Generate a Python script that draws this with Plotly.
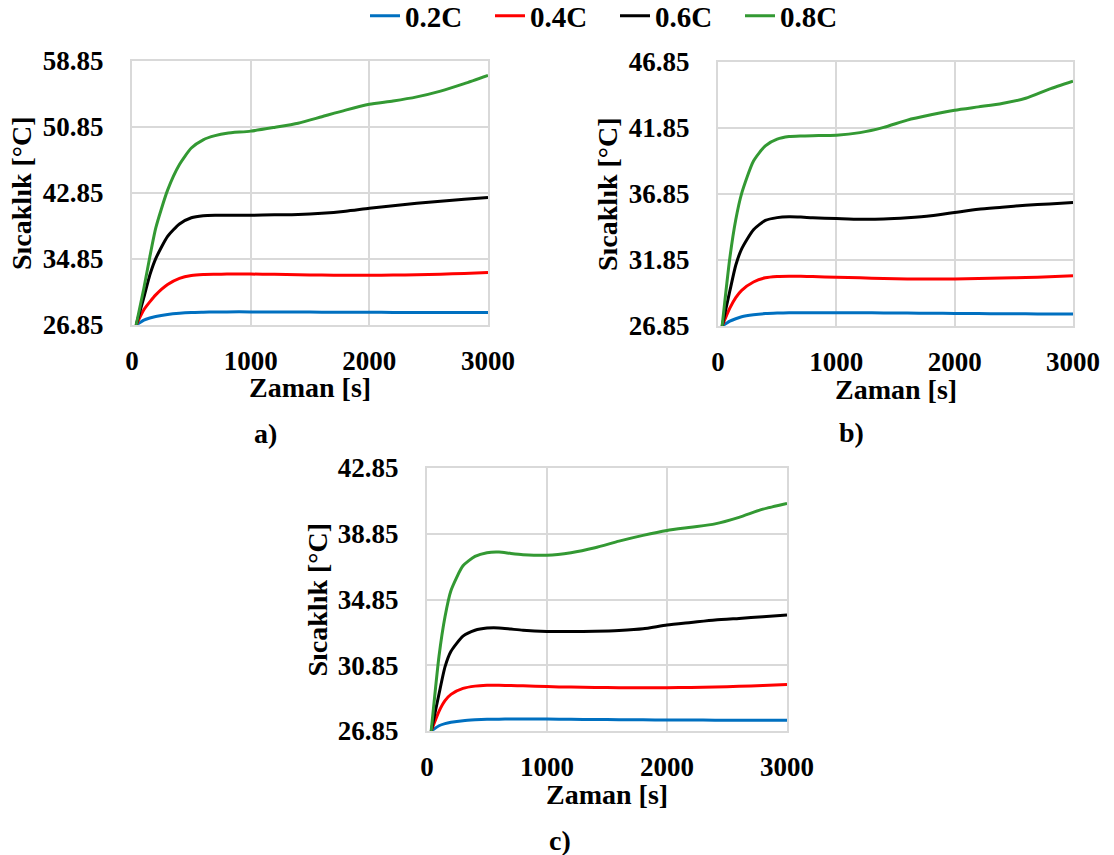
import plotly.graph_objects as go

# ---------------- data ----------------
series_names = ["0.2C", "0.4C", "0.6C", "0.8C"]
series_colors = ["#0070C0", "#FF0000", "#000000", "#339933"]

time_s = [35, 100, 150, 200, 300, 400, 500, 600, 700, 800, 1000, 1200, 1400,
          1600, 1800, 2000, 2200, 2400, 2600, 2800, 3000]

# panel a)
a_02 = [26.85, 27.45, 27.7, 27.88, 28.12, 28.27, 28.36, 28.4, 28.43, 28.44, 28.44, 28.43,
        28.42, 28.41, 28.4, 28.39, 28.38, 28.37, 28.36, 28.35, 28.35]
a_04 = [26.85, 28.7, 29.65, 30.5, 31.75, 32.5, 32.85, 32.97, 33.0, 33.02, 33.02, 33.0,
        32.95, 32.9, 32.88, 32.88, 32.9, 32.95, 33.0, 33.1, 33.2]
a_06 = [26.85, 30.2, 32.9, 34.9, 37.6, 39.1, 39.85, 40.1, 40.15, 40.15, 40.15, 40.2,
        40.25, 40.4, 40.65, 41.0, 41.3, 41.6, 41.85, 42.1, 42.3]
a_08 = [26.85, 31.3, 35.1, 38.6, 43.2, 46.3, 48.3, 49.3, 49.8, 50.1, 50.35, 50.8,
        51.3, 52.1, 52.9, 53.6, 54.0, 54.5, 55.2, 56.1, 57.1]

# panel b)
b_02 = [26.85, 27.22, 27.4, 27.55, 27.7, 27.79, 27.83, 27.85, 27.86, 27.86, 27.86, 27.85,
        27.84, 27.83, 27.82, 27.8, 27.79, 27.78, 27.77, 27.76, 27.75]
b_04 = [26.85, 28.2, 29.0, 29.55, 30.18, 30.5, 30.6, 30.62, 30.61, 30.6, 30.54, 30.5,
        30.45, 30.42, 30.42, 30.42, 30.45, 30.48, 30.52, 30.58, 30.65]
b_06 = [26.85, 29.5, 31.45, 32.7, 34.15, 34.85, 35.06, 35.12, 35.1, 35.05, 34.99, 34.93,
        34.95, 35.05, 35.2, 35.45, 35.7, 35.85, 36.0, 36.1, 36.2]
b_08 = [26.85, 32.0, 34.9, 36.9, 39.35, 40.5, 41.0, 41.2, 41.25, 41.27, 41.3, 41.5,
        41.9, 42.45, 42.85, 43.2, 43.45, 43.7, 44.1, 44.8, 45.4]

# panel c)
c_02 = [26.85, 27.17, 27.3, 27.38, 27.48, 27.53, 27.56, 27.57, 27.58, 27.58, 27.58, 27.56,
        27.55, 27.54, 27.53, 27.52, 27.52, 27.51, 27.5, 27.5, 27.5]
c_04 = [26.85, 28.05, 28.7, 29.08, 29.44, 29.58, 29.63, 29.64, 29.62, 29.6, 29.55, 29.52,
        29.5, 29.48, 29.48, 29.48, 29.5, 29.53, 29.57, 29.62, 29.68]
c_06 = [26.85, 29.1, 30.75, 31.7, 32.62, 32.98, 33.11, 33.12, 33.05, 32.98, 32.91, 32.9,
        32.92, 32.97, 33.07, 33.3, 33.45, 33.6, 33.7, 33.8, 33.9]
c_08 = [26.85, 31.4, 33.8, 35.4, 36.9, 37.47, 37.7, 37.74, 37.65, 37.58, 37.54, 37.7,
        38.0, 38.4, 38.75, 39.05, 39.25, 39.45, 39.85, 40.35, 40.7]

x_ticks = [0, 1000, 2000, 3000]
a_yticks = [26.85, 34.85, 42.85, 50.85, 58.85]
b_yticks = [26.85, 31.85, 36.85, 41.85, 46.85]
c_yticks = [26.85, 30.85, 34.85, 38.85, 42.85]

panel_labels = ["a)", "b)", "c)"]
x_title = "Zaman [s]"
y_title = "Sıcaklık [°C]"

# ---------------- figure ----------------
FONT = "Liberation Serif"
W, H = 1114, 855

panels = [
    dict(series=[a_02, a_04, a_06, a_08], yticks=a_yticks, xd=[132 / W, 488 / W], yd=[1 - 325 / H, 1 - 61 / H]),
    dict(series=[b_02, b_04, b_06, b_08], yticks=b_yticks, xd=[718 / W, 1073 / W], yd=[1 - 326 / H, 1 - 62 / H]),
    dict(series=[c_02, c_04, c_06, c_08], yticks=c_yticks, xd=[427 / W, 787 / W], yd=[1 - 731 / H, 1 - 468 / H]),
]

fig = go.Figure()
layout = dict(
    width=W, height=H,
    margin=dict(l=0, r=0, t=0, b=0, autoexpand=False),
    paper_bgcolor="white", plot_bgcolor="white",
    font=dict(family=FONT, color="black"),
    showlegend=True,
    legend=dict(orientation="h", x=365 / W, xanchor="left", y=1 - 16 / H, yanchor="middle",
                font=dict(family=FONT, size=29, color="black", weight="bold"),
                entrywidth=80, entrywidthmode="pixels", itemwidth=30,
                bgcolor="rgba(0,0,0,0)", tracegroupgap=0),
    annotations=[],
)

label_pos = [(265, 433), (851, 432), (560, 840)]

for i, p in enumerate(panels):
    n = "" if i == 0 else str(i + 1)
    xa, ya = "xaxis" + n, "yaxis" + n
    for j, (name, color) in enumerate(zip(series_names, series_colors)):
        fig.add_trace(go.Scatter(
            x=time_s, y=p["series"][j], mode="lines", name=name,
            line=dict(color=color, width=3, shape="spline", smoothing=0.6),
            xaxis="x" + n, yaxis="y" + n, showlegend=(i == 0), legendgroup=name,
        ))
    yt = p["yticks"]
    layout[xa] = dict(domain=p["xd"], anchor="y" + n, range=[0, 3000], tickvals=x_ticks,
                      showgrid=True, gridcolor="#D9D9D9", gridwidth=2,
                      showline=True, linecolor="#D9D9D9", linewidth=2, mirror=True,
                      zeroline=False, ticks="", ticklabelstandoff=11,
                      tickfont=dict(family=FONT, size=27, color="black", weight="bold"))
    layout[ya] = dict(domain=p["yd"], anchor="x" + n, range=[yt[0], yt[-1]], tickvals=yt,
                      ticktext=[f"{v:.2f}" for v in yt],
                      showgrid=True, gridcolor="#D9D9D9", gridwidth=2,
                      showline=True, linecolor="#D9D9D9", linewidth=2, mirror=True,
                      zeroline=False, ticks="", ticklabelstandoff=21,
                      tickfont=dict(family=FONT, size=27, color="black", weight="bold"))
    xc = (p["xd"][0] + p["xd"][1]) / 2
    layout["annotations"].append(dict(
        text=x_title, xref="paper", yref="paper", x=xc, y=p["yd"][0] - 63 / H,
        xanchor="center", yanchor="middle", showarrow=False,
        font=dict(family=FONT, size=28, color="black", weight="bold")))
    yc = (p["yd"][0] + p["yd"][1]) / 2
    layout["annotations"].append(dict(
        text=y_title, xref="paper", yref="paper", x=p["xd"][0] - 110 / W, y=yc,
        xanchor="center", yanchor="middle", textangle=-90, showarrow=False,
        font=dict(family=FONT, size=28, color="black", weight="bold")))
    lx, ly = label_pos[i]
    layout["annotations"].append(dict(
        text=panel_labels[i], xref="paper", yref="paper", x=lx / W, y=1 - ly / H,
        xanchor="center", yanchor="middle", showarrow=False,
        font=dict(family=FONT, size=28, color="black", weight="bold")))

fig.update_layout(**layout)
fig.write_html("out.html")
